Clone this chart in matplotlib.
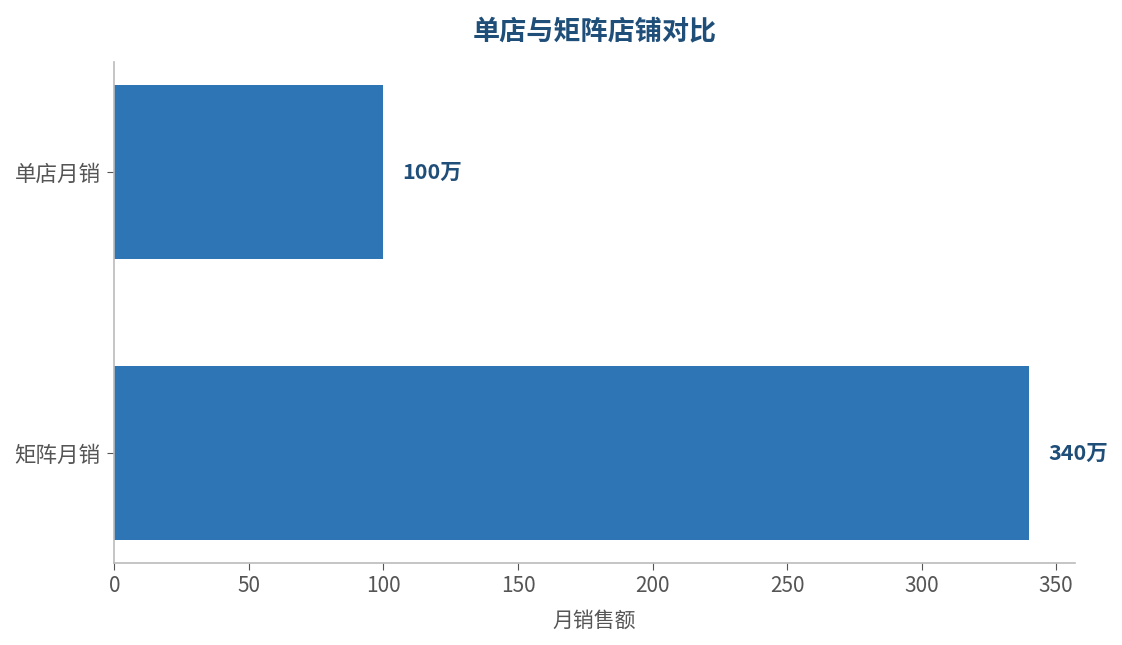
import matplotlib
matplotlib.use("Agg")
import matplotlib.pyplot as plt

plt.rcParams["font.family"] = ["Noto Sans CJK SC", "DejaVu Sans"]

categories = ["单店月销", "矩阵月销"]
values = [100, 340]
value_labels = ["100万", "340万"]

BAR_COLOR = "#2E75B6"
TEXT_DARK = "#1F4E79"
GRAY = "#555555"

fig, ax = plt.subplots(figsize=(11.22, 6.45), dpi=100)
fig.subplots_adjust(left=0.102, right=0.958, top=0.904, bottom=0.127)

ypos = list(range(len(categories)))
ax.barh(ypos, values, height=0.62, color=BAR_COLOR)
ax.set_yticks(ypos)
ax.set_yticklabels(categories)
ax.invert_yaxis()
ax.set_xlim(0, max(values) * 1.05)

for y, v, lab in zip(ypos, values, value_labels):
    ax.text(v + 7, y, lab, va="center", ha="left", fontsize=15.5,
            fontweight="bold", color=TEXT_DARK)

ax.set_title("单店与矩阵店铺对比", fontsize=19.5, fontweight="bold",
             color=TEXT_DARK, pad=16)
ax.set_xlabel("月销售额", fontsize=15, color=GRAY, labelpad=9)

for side in ["top", "right"]:
    ax.spines[side].set_visible(False)
for side in ["left", "bottom"]:
    ax.spines[side].set_color("#BBBBBB")
    ax.spines[side].set_linewidth(1.2)
ax.tick_params(axis="both", colors=GRAY, labelsize=15, length=5)
ax.tick_params(axis="y", labelsize=15.5, pad=5)
ax.tick_params(axis="both", color="#555555")

plt.savefig("out.png", dpi=100)
